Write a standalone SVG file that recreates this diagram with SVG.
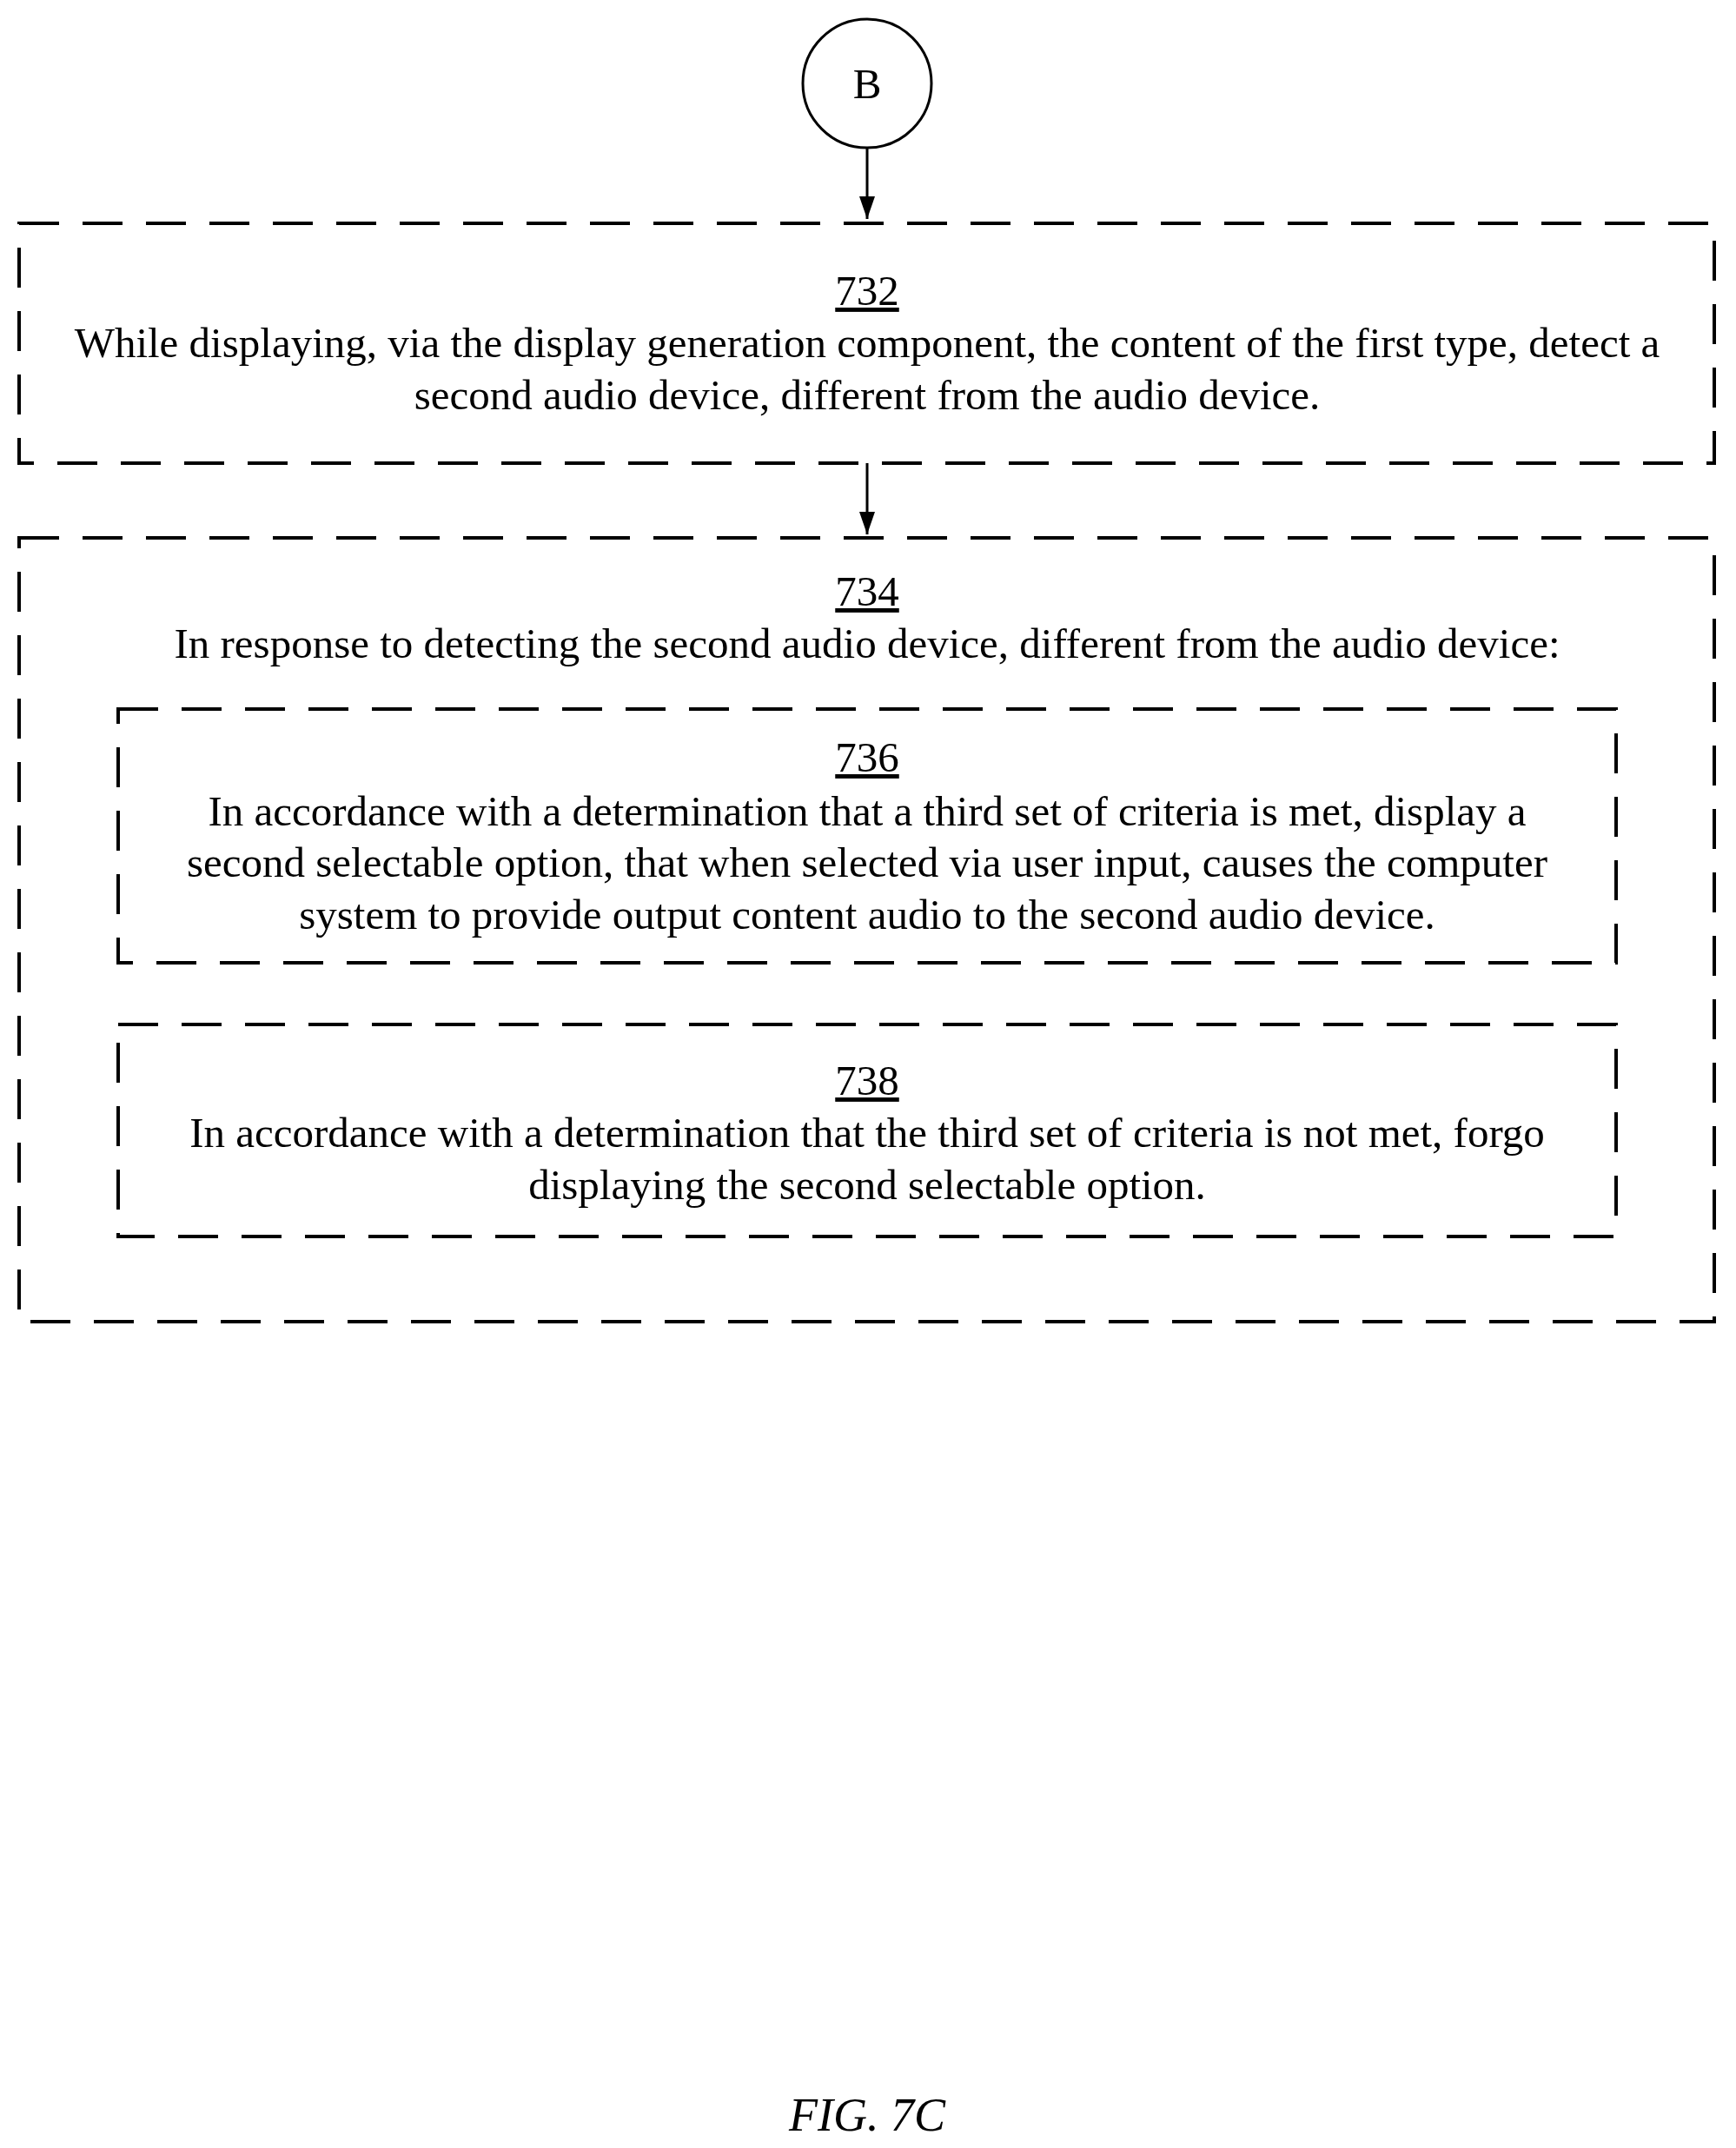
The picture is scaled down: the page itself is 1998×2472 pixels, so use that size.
<svg xmlns="http://www.w3.org/2000/svg" width="1998" height="2472" viewBox="0 0 1998 2472">
<style>
.t{font-family:"Liberation Serif",serif;font-size:49px;text-anchor:middle;fill:#000}
.u{text-decoration:underline}
.box{fill:none;stroke:#000;stroke-width:4;stroke-dasharray:46 27}
.ln{stroke:#000;stroke-width:3;fill:none}
</style>
<defs><marker id="a" markerWidth="26" markerHeight="18" refX="26" refY="9" orient="auto" markerUnits="userSpaceOnUse" viewBox="0 0 26 18"><path d="M0,0 L26,9 L0,18 z" fill="#000"/></marker></defs>
<rect width="1998" height="2472" fill="#fff"/>
<g id="B"><circle cx="998" cy="96" r="74" fill="#fff" stroke="#000" stroke-width="3"/><text class="t" x="998" y="113">B</text></g>
<g id="connectors">
<line class="ln" x1="998" y1="170" x2="998" y2="252" marker-end="url(#a)"/>
<line class="ln" x1="998" y1="533" x2="998" y2="615" marker-end="url(#a)"/>
</g>
<g id="n732"><rect class="box" x="22" y="257" width="1951" height="276"/>
<text class="t u" x="998" y="351">732</text>
<text class="t" x="998" y="411">While displaying, via the display generation component, the content of the first type, detect a</text>
<text class="t" x="998" y="471">second audio device, different from the audio device.</text></g>
<g id="n734"><rect class="box" x="22" y="619" width="1951" height="902"/>
<text class="t u" x="998" y="697">734</text>
<text class="t" x="998" y="757">In response to detecting the second audio device, different from the audio device:</text></g>
<g id="n736"><rect class="box" x="136" y="816" width="1724" height="292"/>
<text class="t u" x="998" y="888">736</text>
<text class="t" x="998" y="950">In accordance with a determination that a third set of criteria is met, display a</text>
<text class="t" x="998" y="1009">second selectable option, that when selected via user input, causes the computer</text>
<text class="t" x="998" y="1069">system to provide output content audio to the second audio device.</text></g>
<g id="n738"><rect class="box" x="136" y="1179" width="1724" height="244"/>
<text class="t u" x="998" y="1260">738</text>
<text class="t" x="998" y="1320">In accordance with a determination that the third set of criteria is not met, forgo</text>
<text class="t" x="998" y="1380">displaying the second selectable option.</text></g>
<text class="t" x="998" y="2452" style="font-style:italic;font-size:54px">FIG. 7C</text>
</svg>
